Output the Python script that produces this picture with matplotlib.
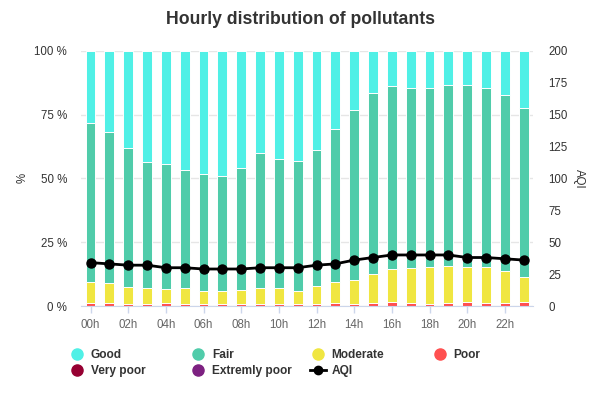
import matplotlib
matplotlib.use("Agg")
import matplotlib.pyplot as plt
from matplotlib.lines import Line2D
import numpy as np

plt.rcParams['font.family'] = ['Liberation Sans', 'DejaVu Sans']

hours = [f"{h:02d}h" for h in range(24)]
# percentage share per category (cumulative boundaries)
poor = [1.3, 1.3, 0.7, 0.7, 1.3, 0.7, 0.7, 0.7, 0.7, 0.7, 0.7, 0.7,
        0.7, 1.0, 0.7, 1.2, 1.7, 1.2, 0.7, 1.2, 1.7, 1.2, 1.2, 1.7]
very_poor = [0.0] * 24
extremly_poor = [0.0] * 24
moderate_top = [9.5, 9.0, 7.6, 7.2, 6.7, 7.2, 6.0, 6.0, 6.4, 7.2, 7.2, 6.0,
                8.0, 9.3, 10.3, 12.7, 14.5, 14.9, 15.4, 15.8, 15.4, 15.4, 13.6, 11.2]
fair_top = [71.8, 68.3, 61.9, 56.4, 55.6, 53.3, 51.7, 50.9, 54.2, 59.9, 57.7, 56.8,
            61.1, 69.3, 76.8, 83.6, 86.2, 85.5, 85.5, 86.4, 86.4, 85.5, 82.5, 77.5]
aqi = [34, 33, 32, 32, 30, 30, 29, 29, 29, 30, 30, 30,
       32, 33, 36, 38, 40, 40, 40, 40, 38, 38, 37, 36]

moderate = [m - p for m, p in zip(moderate_top, poor)]
fair = [f - m for f, m in zip(fair_top, moderate_top)]
good = [100 - f for f in fair_top]

series = [
    ("Extremly poor", extremly_poor, "#7d2181"),
    ("Very poor", very_poor, "#960032"),
    ("Poor", poor, "#ff5050"),
    ("Moderate", moderate, "#f0e641"),
    ("Fair", fair, "#50ccaa"),
    ("Good", good, "#50f0e6"),
]

fig = plt.figure(figsize=(6.01, 3.99), dpi=100)
ax = fig.add_axes([0.135, 0.233, 0.752, 0.640])
x = np.arange(len(hours))
bottom = np.zeros(len(hours))
colors = {}
for name, vals, col in series:
    vals = np.array(vals)
    ax.bar(x, vals, bottom=bottom, width=0.52, color=col, edgecolor="white",
           linewidth=0.7, zorder=2)
    bottom += vals
    colors[name] = col

ax.set_xlim(-0.5, 23.5)
ax.set_ylim(0, 100)
ax.set_yticks([0, 25, 50, 75, 100])
ax.set_yticklabels([f"{v} %" for v in [0, 25, 50, 75, 100]])
ax.set_xticks(x[::2])
ax.set_xticklabels(hours[::2])
ax.grid(axis="y", color="#e6e6e6", linewidth=1, zorder=0)
ax.set_axisbelow(True)
for s in ["top", "right", "left"]:
    ax.spines[s].set_visible(False)
ax.spines["bottom"].set_color("#ccd6eb")
ax.tick_params(axis="x", colors="#ccd6eb", length=5, width=1, pad=4, labelcolor="#666666", labelsize=8.3)
ax.tick_params(axis="y", length=0, pad=10, labelcolor="#333333", labelsize=8.3)
ax.set_ylabel("%", fontsize=8.3, color="#333333", va="center", ha="center")
ax.yaxis.set_label_coords(-0.129, 0.5)

ax2 = ax.twinx()
ax2.plot(x, aqi, color="black", linewidth=2, marker="o", markersize=6.5, zorder=5)
ax2.set_ylim(0, 200)
ax2.set_yticks(range(0, 201, 25))
for s in ["top", "right", "left", "bottom"]:
    ax2.spines[s].set_visible(False)
ax2.tick_params(axis="y", length=0, pad=11, labelcolor="#333333", labelsize=8.3)
ax2.set_ylabel("AQI", fontsize=8.3, color="#333333", rotation=270, va="center", ha="center")
ax2.yaxis.set_label_coords(1.1007, 0.5)

fig.suptitle("Hourly distribution of pollutants", fontsize=12.7, fontweight="bold",
             color="#333333", y=0.95, va="center")

def mk(col):
    return Line2D([], [], linestyle="none", marker="o", markersize=8,
                  markerfacecolor=col, markeredgecolor=col)

aqi_handle = Line2D([], [], color="black", linewidth=2, marker="o", markersize=6)
columns = [
    [("Good", mk(colors["Good"])), ("Very poor", mk(colors["Very poor"]))],
    [("Fair", mk(colors["Fair"])), ("Extremly poor", mk(colors["Extremly poor"]))],
    [("Moderate", mk(colors["Moderate"])), ("AQI", aqi_handle)],
    [("Poor", mk(colors["Poor"]))],
]
col_x = [0.115, 0.3166, 0.516, 0.719]
for cx, entries in zip(col_x, columns):
    leg = fig.legend([h for _, h in entries], [n for n, _ in entries],
                     loc="upper left", bbox_to_anchor=(cx, 0.125), frameon=False,
                     handlelength=1.3, handletextpad=0.5, labelspacing=0.3,
                     borderpad=0, borderaxespad=0,
                     prop={"size": 8.6, "weight": "bold"})
    for t in leg.get_texts():
        t.set_color("#333333")

fig.savefig("out.png", dpi=100)
